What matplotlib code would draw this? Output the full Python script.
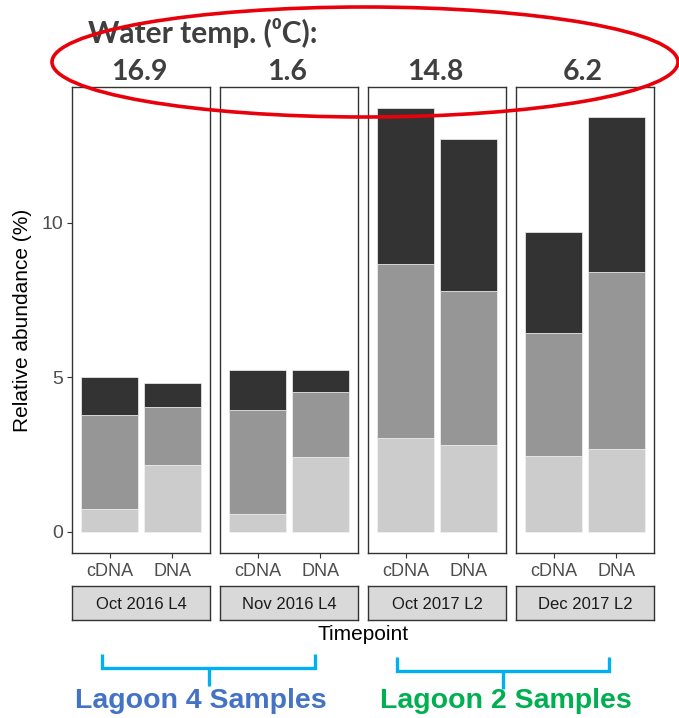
import matplotlib
matplotlib.use("Agg")
import matplotlib.pyplot as plt
from matplotlib.patches import Ellipse
import numpy as np

# ---- data ----
timepoints = ["Oct 2016 L4", "Nov 2016 L4", "Oct 2017 L2", "Dec 2017 L2"]
samples = ["cDNA", "DNA"]
water_temps = ["16.9", "1.6", "14.8", "6.2"]
# stacked segment heights (bottom -> top), per timepoint [cDNA, DNA]
seg_light = [[0.73, 2.16], [0.57, 2.41], [3.03, 2.81], [2.45, 2.68]]
seg_mid = [[3.05, 1.87], [3.37, 2.12], [5.63, 4.97], [3.97, 5.71]]
seg_dark = [[1.22, 0.79], [1.28, 0.69], [5.04, 4.92], [3.28, 5.01]]
seg_colors = ["#CCCCCC", "#969696", "#333333"]
y_ticks = [0, 5, 10]
group_labels = ["Lagoon 4 Samples", "Lagoon 2 Samples"]

W, H = 679, 718
fig = plt.figure(figsize=(W / 100, H / 100), dpi=100)
plt.rcParams['font.family'] = ['Liberation Sans', 'DejaVu Sans']

panel_x = [(72, 210), (220, 358), (368, 506), (516, 654)]
p_top, p_bot = 87, 553
strip_top, strip_bot = 586, 620

totals = np.array(seg_light) + np.array(seg_mid) + np.array(seg_dark)
ymax = totals.max()
ylim = (-0.05 * ymax, ymax * 1.05)

axes = []
for i, (l, r) in enumerate(panel_x):
    ax = fig.add_axes([l / W, 1 - p_bot / H, (r - l) / W, (p_bot - p_top) / H])
    x = np.arange(len(samples))
    bottom = np.zeros(len(samples))
    for seg, col in zip([seg_light, seg_mid, seg_dark], seg_colors):
        vals = np.array(seg[i])
        ax.bar(x, vals, width=0.9, bottom=bottom, color=col,
               edgecolor="#f2f2f2", linewidth=0.5)
        bottom += vals
    ax.set_xlim(-0.6, len(samples) - 0.4)
    ax.set_ylim(*ylim)
    ax.set_xticks(x)
    ax.set_xticklabels(samples, fontsize=13, color="#4D4D4D")
    ax.tick_params(axis="x", length=3.5, width=0.8, color="#333333", pad=4)
    if i == 0:
        ax.set_yticks(y_ticks)
        ax.set_yticklabels([str(t) for t in y_ticks], fontsize=14, color="#4D4D4D")
        ax.tick_params(axis="y", length=3.5, width=0.8, color="#333333", pad=3)
    else:
        ax.set_yticks([])
    for sp in ax.spines.values():
        sp.set_color("#333333")
        sp.set_linewidth(1.0)
    axes.append(ax)

    # strip
    sax = fig.add_axes([l / W, 1 - strip_bot / H, (r - l) / W, (strip_bot - strip_top) / H])
    sax.set_facecolor("#D9D9D9")
    sax.set_xticks([]); sax.set_yticks([])
    for sp in sax.spines.values():
        sp.set_color("#333333")
        sp.set_linewidth(1.0)
    sax.text(0.5, 0.47, timepoints[i], ha="center", va="center", fontsize=12,
             color="#1A1A1A", transform=sax.transAxes)

# overlay in pixel coordinates
ov = fig.add_axes([0, 0, 1, 1], facecolor="none")
ov.set_xlim(0, W); ov.set_ylim(H, 0); ov.axis("off")

ov.text(23, 320, "Relative abundance (%)", rotation=90, ha="center", va="center",
        fontsize=15, color="#000000")
ov.text(363, 634, "Timepoint", ha="center", va="center", fontsize=15, color="#000000")

# top annotation
ov.text(88, 33, "Water temp. (\u2070C):", ha="left", va="center", fontsize=21.5,
        fontweight="bold", color="#3F3F3F", family=["Lato", "DejaVu Sans"])
for i, (l, r) in enumerate(panel_x):
    ov.text((l + r) / 2 - 2, 72, water_temps[i], ha="center", va="center", fontsize=20.5,
            fontweight="bold", color="#3F3F3F", family=["Lato", "DejaVu Sans"])
ov.add_patch(Ellipse((365, 62), 626, 110, fill=False, edgecolor="#E8000B",
                     linewidth=2.6, zorder=10))

# brackets
br_col = "#00B0F0"
for (x0, x1, yt, yh, yb) in [(102, 315, 654, 668, 686), (397, 609, 657, 671, 689)]:
    ov.plot([x0, x0, x1, x1], [yt, yh, yh, yt], color=br_col, linewidth=2.4,
            solid_joinstyle="miter", solid_capstyle="butt")
    ov.plot([(x0 + x1) / 2, (x0 + x1) / 2], [yh, yb], color=br_col, linewidth=2.4,
            solid_capstyle="butt")
ov.text(201, 701, group_labels[0], ha="center", va="center", fontsize=20.5,
        fontweight="bold", color="#4472C4")
ov.text(506, 701, group_labels[1], ha="center", va="center", fontsize=20.5,
        fontweight="bold", color="#00B050")

fig.savefig("out.png", dpi=100)
